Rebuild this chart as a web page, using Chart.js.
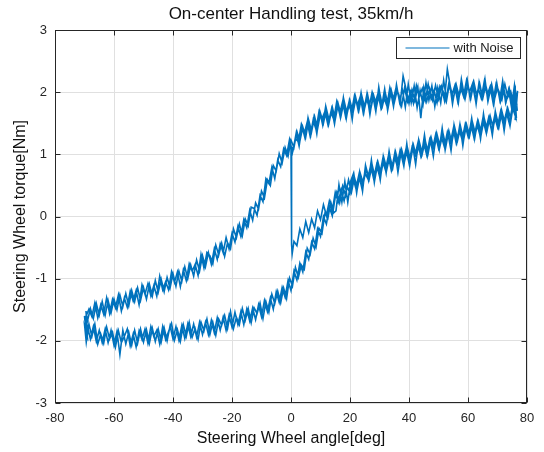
<!DOCTYPE html>
<html><head><meta charset="utf-8">
<script src="https://cdn.jsdelivr.net/npm/chart.js@4.4.1/dist/chart.umd.min.js"></script>
<style>html,body{margin:0;padding:0;background:#fff}canvas{display:block}</style>
</head><body>
<canvas id="c" width="544" height="452"></canvas>
<script>
// ---- data ----
const chartTitle = "On-center Handling test, 35km/h";
const xTitle = "Steering Wheel angle[deg]";
const yTitle = "Steering Wheel torque[Nm]";
const seriesName = "with Noise";
const xTicks = [-80,-60,-40,-20,0,20,40,60,80];
const yTicks = [-3,-2,-1,0,1,2,3];

const startAngle  = [0, 0.2, 0.1, 0.3, 0.2, 0.4];
const startTorque = [1.12, 0.70, 0.25, -0.15, -0.45, -0.60];

const riseAngle = [1,2,3,4,5,6,7,8,9,10,11,12,13,14,15,16,17,18,19,20,21,22,23,24,25,26,27,28,29,30,31,32,33,34,35,36,37,38,39,40,41,42,43,44,45,46,47,48,49,50,51,52,53,54,55,56,57,58,59,60,61,62,63,64,65,66,67,68,69,70,71,72,73,74,75,76];
const riseTorque = [-0.40,-0.47,-0.20,-0.34,-0.08,-0.26,-0.04,-0.18,0.09,-0.05,
0.19,0.02,0.25,0.09,0.39,0.23,0.43,0.25,0.49,0.37,
0.62,0.45,0.67,0.46,0.70,0.61,0.82,0.61,0.83,0.65,
0.90,0.75,0.97,0.74,0.96,0.82,1.07,0.88,1.09,0.86,
1.11,0.98,1.18,0.97,1.18,0.99,1.24,1.09,1.31,1.10,
1.28,1.12,1.36,1.18,1.41,1.18,1.40,1.24,1.47,1.29,
1.49,1.27,1.49,1.32,1.57,1.38,1.59,1.38,1.61,1.44,
1.68,1.47,1.68,1.50,1.76,1.62];

const rightTurnAngle  = [76.5, 76, 76.8, 75.8, 76.6, 76.2];
const rightTurnTorque = [1.95, 1.55, 2.02, 1.66, 1.92, 1.80];

const topAngle = [76,75,74,73,72,71,70,69,68,67,66,65,64,63,62,61,60,59,58,57,56,55,54,53,52,51,50,49,48,47,46,45,44,43,42,41,40,39,38,37,36,35,34,33,32,31,30,29,28,27,26,25,24,23,22,21,20,19,18,17,16,15,14,13,12,11,10,9,8,7,6,5,4,3,2,1,0,-1,-2,-3,-4,-5,-6,-7,-8,-9,-10,-11,-12,-13,-14,-15,-16,-17,-18,-19,-20,-21,-22,-23,-24,-25,-26,-27,-28,-29,-30,-31,-32,-33,-34,-35,-36,-37,-38,-39,-40,-41,-42,-43,-44,-45,-46,-47,-48,-49,-50,-51,-52,-53,-54,-55,-56,-57,-58,-59,-60,-61,-62,-63,-64,-65,-66,-67,-68,-69];
const topTorque = [2.02,1.82,2.06,1.86,2.09,1.85,2.07,1.89,2.13,1.92,
2.11,1.90,2.13,1.94,2.16,1.91,2.11,1.89,2.11,1.93,
2.12,1.89,2.09,2.37,1.87,2.09,1.89,2.11,1.87,2.05,
1.85,2.07,1.58,2.08,1.86,2.04,1.82,2.05,2.26,1.81,
2.03,1.83,2.03,1.77,1.98,1.78,2.00,1.77,1.95,1.72,
1.95,1.75,1.94,1.70,1.90,1.66,1.86,1.65,1.86,1.63,
1.81,1.56,1.76,1.53,1.73,1.50,1.66,1.41,1.61,1.37,
1.55,1.28,1.44,1.21,1.37,1.11,1.23,0.97,1.11,0.86,
1.01,0.73,0.82,0.50,0.59,0.30,0.41,0.12,0.22,-0.06,
0.10,-0.18,-0.05,-0.32,-0.16,-0.41,-0.27,-0.52,-0.34,-0.58,
-0.44,-0.69,-0.52,-0.77,-0.58,-0.81,-0.63,-0.88,-0.70,-0.96,
-0.78,-1.00,-0.81,-1.04,-0.88,-1.12,-0.92,-1.15,-0.98,-1.21,
-1.01,-1.22,-1.03,-1.28,-1.09,-1.33,-1.14,-1.35,-1.15,-1.37,
-1.19,-1.44,-1.24,-1.45,-1.26,-1.50,-1.33,-1.55,-1.35,-1.59,
-1.37,-1.59,-1.40,-1.64,-1.48,-1.68];

const leftTurnAngle  = [-69.5, -69, -70, -69.3, -69.8, -69.2];
const leftTurnTorque = [-1.52, -1.85, -1.60, -1.95, -1.72, -2.00];

const bottomAngle = [-69,-68,-67,-66,-65,-64,-63,-62,-61,-60,-59,-58,-57,-56,-55,-54,-53,-52,-51,-50,-49,-48,-47,-46,-45,-44,-43,-42,-41,-40,-39,-38,-37,-36,-35,-34,-33,-32,-31,-30,-29,-28,-27,-26,-25,-24,-23,-22,-21,-20,-19,-18,-17,-16,-15,-14,-13,-12,-11,-10,-9,-8,-7,-6,-5,-4,-3,-2,-1,0,1,2,3,4,5,6,7,8,9,10,11,12,13,14,15];
const bottomTorque = [-1.77,-1.97,-1.77,-2.01,-1.83,-2.03,-1.81,-2.03,-1.83,-2.07,
-1.85,-2.22,-1.83,-2.05,-1.86,-2.07,-1.83,-2.04,-1.81,-2.02,
-1.82,-2.04,-1.80,-2.01,-1.81,-2.02,-1.79,-2.00,-1.76,-1.97,
-1.77,-1.99,-1.75,-1.96,-1.73,-1.93,-1.73,-1.94,-1.70,-1.90,
-1.70,-1.90,-1.67,-1.87,-1.63,-1.83,-1.62,-1.83,-1.59,-1.78,
-1.54,-1.74,-1.53,-1.74,-1.49,-1.68,-1.47,-1.66,-1.42,-1.61,
-1.35,-1.53,-1.31,-1.49,-1.21,-1.38,-1.14,-1.30,-1.03,-1.19,
-0.88,-1.02,-0.75,-0.89,-0.57,-0.69,-0.41,-0.52,-0.20,-0.32,
0.00,-0.12,0.15,0.01,0.31];

const rise2Angle = [15.5,16.5,17.5,18.5,19.5,20.5,21.5,22.5,23.5,24.5,25.5,26.5,27.5,28.5,29.5,30.5,31.5,32.5,33.5,34.5,35.5,36.5,37.5,38.5,39.5,40.5,41.5,42.5,43.5,44.5,45.5,46.5,47.5,48.5,49.5,50.5,51.5,52.5,53.5,54.5,55.5,56.5,57.5,58.5,59.5,60.5,61.5,62.5,63.5,64.5,65.5,66.5,67.5,68.5,69.5,70.5,71.5,72.5,73.5,74.5,75.5];
const rise2Torque = [0.39,0.22,0.49,0.34,0.59,0.39,0.63,0.45,0.69,0.53,
0.78,0.60,0.83,0.62,0.87,0.69,0.94,0.76,0.97,0.78,
1.03,0.84,1.08,0.89,1.10,0.90,1.15,0.96,1.20,1.01,
1.22,1.02,1.27,1.08,1.32,1.13,1.34,1.13,1.38,1.19,
1.43,1.23,1.44,1.23,1.48,1.29,1.52,1.33,1.53,1.33,
1.58,1.39,1.62,1.43,1.64,1.44,1.69,1.50,1.74,1.57,1.80];

const rightTurn2Angle  = [76.4, 75.9, 76.7, 76.1];
const rightTurn2Torque = [1.58, 1.97, 1.70, 2.00];

const top2Angle = [75.5,74.5,73.5,72.5,71.5,70.5,69.5,68.5,67.5,66.5,65.5,64.5,63.5,62.5,61.5,60.5,59.5,58.5,57.5,56.5,55.5,54.5,53.5,52.5,51.5,50.5,49.5,48.5,47.5,46.5,45.5,44.5,43.5,42.5,41.5,40.5,39.5,38.5,37.5,36.5,35.5,34.5,33.5,32.5,31.5,30.5,29.5,28.5,27.5,26.5,25.5,24.5,23.5,22.5,21.5,20.5,19.5,18.5,17.5,16.5,15.5,14.5,13.5,12.5,11.5,10.5,9.5,8.5,7.5,6.5,5.5,4.5,3.5,2.5,1.5,0.5,-0.5,-1.5,-2.5,-3.5,-4.5,-5.5,-6.5,-7.5,-8.5,-9.5,-10.5,-11.5,-12.5,-13.5,-14.5,-15.5,-16.5,-17.5,-18.5,-19.5,-20.5,-21.5,-22.5,-23.5,-24.5,-25.5,-26.5,-27.5,-28.5,-29.5,-30.5,-31.5,-32.5,-33.5,-34.5,-35.5,-36.5,-37.5,-38.5,-39.5,-40.5,-41.5,-42.5,-43.5,-44.5,-45.5,-46.5,-47.5,-48.5,-49.5,-50.5,-51.5,-52.5,-53.5,-54.5,-55.5,-56.5,-57.5,-58.5,-59.5,-60.5,-61.5,-62.5,-63.5,-64.5,-65.5,-66.5,-67.5,-68.5];
const top2Torque = [1.79,2.01,1.92,2.13,1.88,2.01,2.13,1.83,2.09,1.95,
2.17,1.90,2.06,1.88,2.13,2.00,2.19,1.93,2.08,1.85,
2.10,1.95,2.14,1.86,2.02,2.10,1.83,2.03,1.89,2.13,
1.86,2.06,1.93,2.11,1.82,2.01,1.85,2.07,1.78,1.97,
2.05,1.85,2.07,1.78,1.91,1.74,1.98,1.83,2.00,1.76,
1.91,1.66,1.93,1.79,1.94,1.68,1.81,1.61,1.85,1.65,
1.85,1.56,1.68,1.48,1.69,1.57,1.69,1.40,1.55,1.29,
1.52,1.33,1.48,1.20,1.25,1.03,1.24,0.98,1.09,0.80,
0.91,0.61,0.79,0.53,0.61,0.24,0.34,0.02,0.13,0.15,
-0.15,-0.04,-0.31,-0.12,-0.34,-0.20,-0.52,-0.42,-0.64,-0.43,
-0.62,-0.46,-0.76,-0.63,-0.58,-0.83,-0.61,-0.95,-0.77,-0.88,
-0.76,-1.03,-0.86,-1.13,-0.89,-1.06,-0.89,-1.18,-1.05,-1.18,
-0.96,-1.28,-1.11,-1.28,-1.08,-1.25,-1.10,-1.42,-1.19,-1.36,
-1.20,-1.46,-1.31,-1.52,-1.26,-1.47,-1.33,-1.56,-1.31,-1.57,
-1.42,-1.63,-1.39,-1.61,-1.49];

const leftTurn2Angle  = [-69.6, -69.1, -69.9, -69.4];
const leftTurn2Torque = [-1.62, -1.90, -1.78, -2.02];

const bottom2Angle = [-68.5,-67.5,-66.5,-65.5,-64.5,-63.5,-62.5,-61.5,-60.5,-59.5,-58.5,-57.5,-56.5,-55.5,-54.5,-53.5,-52.5,-51.5,-50.5,-49.5,-48.5,-47.5,-46.5,-45.5,-44.5,-43.5,-42.5,-41.5,-40.5,-39.5,-38.5,-37.5,-36.5,-35.5,-34.5,-33.5,-32.5,-31.5,-30.5,-29.5,-28.5,-27.5,-26.5,-25.5,-24.5,-23.5,-22.5,-21.5,-20.5,-19.5,-18.5,-17.5,-16.5,-15.5,-14.5,-13.5,-12.5,-11.5,-10.5,-9.5,-8.5,-7.5,-6.5,-5.5,-4.5,-3.5,-2.5,-1.5,-0.5,0.5,1.5,2.5,3.5,4.5,5.5,6.5,7.5,8.5,9.5,10.5,11.5,12.5,13.5,14.5];
const bottom2Torque = [-1.73,-1.93,-1.73,-2.05,-1.89,-2.04,-1.78,-1.97,-1.86,-2.10,
-1.84,-2.03,-1.93,-1.81,-2.08,-1.89,-2.10,-1.84,-1.98,-1.81,
-2.04,-1.77,-1.93,-1.83,-2.05,-1.77,-1.98,-1.85,-1.72,-1.99,
-1.82,-2.01,-1.74,-1.93,-1.70,-1.94,-1.80,-1.98,-1.70,-1.84,
-1.65,-1.90,-1.70,-1.91,-1.65,-1.75,-1.59,-1.80,-1.53,-1.80,
-1.62,-1.74,-1.48,-1.67,-1.48,-1.71,-1.47,-1.56,-1.39,-1.64,
-1.37,-1.54,-1.25,-1.40,-1.20,-1.39,-1.15,-1.32,-0.99,-1.12,
-0.82,-0.98,-0.78,-0.85,-0.51,-0.61,-0.35,-0.49,-0.19,-0.27,
0.05,-0.03,0.23,0.06];

const rise3Angle = [15.25,16.25,17.25,18.25,19.25,20.25,21.25,22.25,23.25,24.25,25.25,26.25,27.25,28.25,29.25,30.25,31.25,32.25,33.25,34.25,35.25,36.25,37.25,38.25,39.25,40.25,41.25,42.25,43.25,44.25,45.25,46.25,47.25,48.25,49.25,50.25,51.25,52.25,53.25,54.25,55.25,56.25,57.25,58.25,59.25,60.25,61.25,62.25,63.25,64.25,65.25,66.25,67.25,68.25,69.25,70.25,71.25,72.25,73.25,74.25,75.25];
const rise3Torque = [0.09,0.51,0.23,0.56,0.23,0.57,0.70,0.38,0.71,0.41,
0.82,0.59,0.91,0.55,0.86,0.59,0.96,0.70,1.05,0.78,
1.04,0.71,1.02,0.81,1.17,0.82,1.14,0.84,1.23,0.99,
1.31,0.98,1.24,0.97,1.33,1.08,1.42,1.07,1.32,1.06,
1.47,1.20,1.48,1.14,1.48,1.29,1.58,1.25,1.53,1.25,
1.65,1.34,1.58,1.31,1.69,1.44,1.71,1.38,1.72,1.46,1.76];

const rightTurn3Angle  = [76.3, 76.0, 76.6];
const rightTurn3Torque = [1.60, 1.95, 1.78];

const top3Angle = [75.75,74.75,73.75,72.75,71.75,70.75,69.75,68.75,67.75,66.75,65.75,64.75,63.75,62.75,61.75,60.75,59.75,58.75,57.75,56.75,55.75,54.75,53.75,52.75,51.75,50.75,49.75,48.75,47.75,46.75,45.75,44.75,43.75,42.75,41.75,40.75,39.75,38.75,37.75,36.75,35.75,34.75,33.75,32.75,31.75,30.75,29.75,28.75,27.75,26.75,25.75,24.75,23.75,22.75,21.75,20.75,19.75,18.75,17.75,16.75,15.75,14.75,13.75,12.75,11.75,10.75,9.75,8.75,7.75,6.75,5.75,4.75,3.75,2.75,1.75,0.75,0.2];
const top3Torque = [2.11,1.76,2.04,1.83,2.18,1.88,2.15,1.80,2.07,1.85,
2.21,1.93,2.16,1.81,2.14,1.89,2.20,1.94,2.21,1.83,
2.10,1.81,2.15,1.87,2.19,1.83,2.07,1.77,2.10,1.87,
2.15,1.80,2.03,1.75,2.10,1.83,2.13,1.76,2.04,1.85,
2.12,1.77,2.02,1.71,2.05,1.77,2.08,1.69,1.94,1.64,
1.97,1.69,1.99,1.71,1.94,1.56,1.86,1.58,1.91,1.59,
1.82,1.49,1.73,1.48,1.77,1.47,1.69,1.33,1.59,1.32,
1.58,1.26,1.45,1.13,1.34,1.08,1.12];

// ---- build ----
const FONT = "'Liberation Sans', Arial, Helvetica, sans-serif";
const LINE = '#0072BD';
const AXC = '#262626';
function pts(ax, ay){ return ax.map((a,i)=>({x:a, y:ay[i]})); }
const loopData = [].concat(
  pts(startAngle,startTorque), pts(riseAngle,riseTorque), pts(rightTurnAngle,rightTurnTorque),
  pts(topAngle,topTorque), pts(leftTurnAngle,leftTurnTorque), pts(bottomAngle,bottomTorque),
  pts(rise2Angle,rise2Torque), pts(rightTurn2Angle,rightTurn2Torque),
  pts(top2Angle,top2Torque), pts(leftTurn2Angle,leftTurn2Torque), pts(bottom2Angle,bottom2Torque),
  pts(rise3Angle,rise3Torque), pts(rightTurn3Angle,rightTurn3Torque), pts(top3Angle,top3Torque));

const boxPlugin = {
  id:'boxTicks',
  afterDatasetsDraw(chart){
    const {ctx, chartArea:a, scales:{x, y}} = chart;
    ctx.save();
    ctx.strokeStyle = AXC; ctx.lineWidth = 1;
    const L = Math.round(a.left)+0.5, R = Math.round(a.right)-0.5, T = Math.round(a.top)+0.5, B = Math.round(a.bottom)-0.5;
    ctx.beginPath();
    xTicks.forEach(v=>{ const p = Math.round(x.getPixelForValue(v))+0.5; ctx.moveTo(p,B); ctx.lineTo(p,B-5); ctx.moveTo(p,T); ctx.lineTo(p,T+5); });
    yTicks.forEach(v=>{ const p = Math.round(y.getPixelForValue(v))+0.5; ctx.moveTo(L,p); ctx.lineTo(L+5,p); ctx.moveTo(R,p); ctx.lineTo(R-5,p); });
    ctx.stroke();
    ctx.strokeRect(L, T, R-L, B-T);
    // title centred over the axes box
    ctx.fillStyle = '#111';
    ctx.font = "17px " + FONT;
    ctx.textAlign = 'center'; ctx.textBaseline = 'middle';
    ctx.fillText(chartTitle, (a.left + a.right)/2, 14);
    // legend box
    const ds = chart.data.datasets[0];
    const bw = 124, bh = 21;
    const bx = Math.round(a.right) - 7 - bw + 0.5, by = Math.round(a.top) + 7 + 0.5;
    ctx.fillStyle = '#fff';
    ctx.fillRect(bx, by, bw, bh);
    ctx.strokeStyle = AXC;
    ctx.strokeRect(bx, by, bw, bh);
    ctx.strokeStyle = ds.borderColor; ctx.lineWidth = 1.2;
    ctx.beginPath(); ctx.moveTo(bx+9, by+bh/2); ctx.lineTo(bx+53, by+bh/2); ctx.stroke();
    ctx.fillStyle = '#1a1a1a';
    ctx.font = "13px " + FONT;
    ctx.textBaseline = 'middle'; ctx.textAlign = 'left';
    ctx.fillText(ds.label, bx+57, by+bh/2+0.5);
    ctx.restore();
  }
};

Chart.defaults.font.family = FONT;
new Chart(document.getElementById('c'), {
  type:'scatter',
  data:{ datasets:[{ label:seriesName, data:loopData, showLine:true, borderColor:LINE, backgroundColor:LINE,
    borderWidth:1.6, pointRadius:0, tension:0 }]},
  options:{
    responsive:false, animation:false, devicePixelRatio:1,
    layout:{ padding:{ left:0, right:17, top:30, bottom:0 } },
    plugins:{ legend:{ display:false }, tooltip:{ enabled:false }, title:{ display:false } },
    scales:{
      x:{ type:'linear', min:-80, max:80,
        afterBuildTicks(s){ s.ticks = xTicks.map(v=>({value:v})); },
        afterFit(s){ s.height = 49; },
        grid:{ color:'#e0e0e0', drawTicks:false }, border:{ display:false },
        ticks:{ color:AXC, font:{ size:13 }, padding:8, maxRotation:0 },
        title:{ display:true, text:xTitle, color:'#111', font:{ size:16 }, padding:{ top:2, bottom:4 } } },
      y:{ type:'linear', min:-3, max:3,
        afterBuildTicks(s){ s.ticks = yTicks.map(v=>({value:v})); },
        afterFit(s){ s.width = 55; },
        grid:{ color:'#e0e0e0', drawTicks:false }, border:{ display:false },
        ticks:{ color:AXC, font:{ size:13 }, padding:8 },
        title:{ display:true, text:yTitle, color:'#111', font:{ size:16 }, padding:{ top:11, bottom:2 } } }
    }
  },
  plugins:[boxPlugin]
});
</script>
</body></html>
